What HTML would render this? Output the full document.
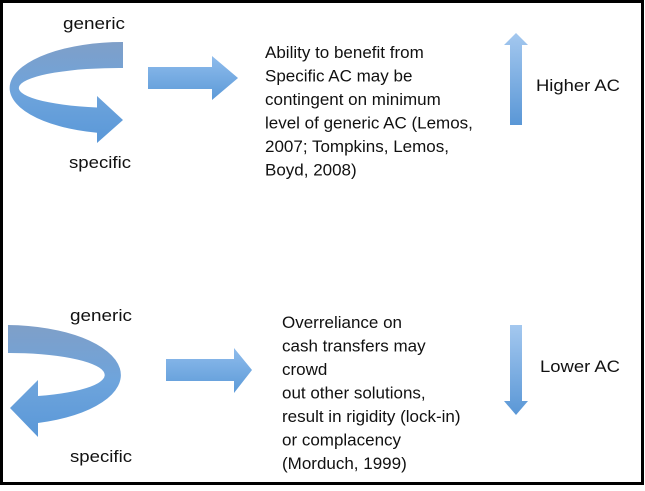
<!DOCTYPE html>
<html><head><meta charset="utf-8"><style>
html,body{margin:0;padding:0;background:#fff;}
body{width:645px;height:486px;overflow:hidden;}
svg text{font-family:"Liberation Sans",sans-serif;font-size:17px;fill:#111;}
</style></head><body>
<svg width="645" height="486" viewBox="0 0 645 486" xmlns="http://www.w3.org/2000/svg">
<defs>
<linearGradient id="g1" x1="0" y1="0" x2="0" y2="1">
<stop offset="0" stop-color="#7f9fc8"/><stop offset="0.5" stop-color="#6ea4dc"/><stop offset="1" stop-color="#5a98d8"/>
</linearGradient>
<linearGradient id="g2" x1="0" y1="0" x2="0" y2="1">
<stop offset="0" stop-color="#8fbcec"/><stop offset="1" stop-color="#5c9ad8"/>
</linearGradient>
<linearGradient id="g3" x1="0" y1="0" x2="0" y2="1">
<stop offset="0" stop-color="#a4c8ef"/><stop offset="1" stop-color="#5a97d6"/>
</linearGradient>
</defs>
<rect x="1.5" y="1.5" width="641" height="482" fill="#fff" stroke="#000" stroke-width="3"/>

<!-- top curved arrow -->
<path d="M123,42 A113,46 0 0,0 97,132.8 L97,143 L123,120 L97,96 L97,107.5 A100,20 0 0,1 123,68 Z" fill="url(#g1)"/>
<text x="63" y="29" textLength="62" lengthAdjust="spacingAndGlyphs">generic</text>
<text x="69" y="168" textLength="62" lengthAdjust="spacingAndGlyphs">specific</text>

<!-- top right arrow -->
<path d="M148,67 L212,67 L212,56 L238,78 L212,100 L212,89 L148,89 Z" fill="url(#g2)"/>

<text x="265" y="58">Ability to benefit from</text>
<text x="265" y="81.5">Specific AC may be</text>
<text x="265" y="105">contingent on minimum</text>
<text x="265" y="128.5">level of generic AC (Lemos,</text>
<text x="265" y="152">2007; Tompkins, Lemos,</text>
<text x="265" y="175.5">Boyd, 2008)</text>

<!-- up arrow -->
<path d="M516,33 L528,45 L522,45 L522,125 L510,125 L510,45 L504,45 Z" fill="url(#g3)"/>
<text x="536" y="91" textLength="84" lengthAdjust="spacingAndGlyphs">Higher AC</text>

<!-- bottom curved arrow -->
<path d="M8,325 A115,50 0 0,1 38,423 L38,437 L10,408 L38,380 L38,396 A95,22 0 0,0 8,353 Z" fill="url(#g1)"/>
<text x="70" y="321" textLength="62" lengthAdjust="spacingAndGlyphs">generic</text>
<text x="70" y="462" textLength="62" lengthAdjust="spacingAndGlyphs">specific</text>

<!-- bottom right arrow -->
<path d="M166,359 L234,359 L234,348 L252,370 L234,393 L234,381 L166,381 Z" fill="url(#g2)"/>

<text x="282" y="328">Overreliance on</text>
<text x="282" y="351.5">cash transfers may</text>
<text x="282" y="375">crowd</text>
<text x="282" y="398.5">out other solutions,</text>
<text x="282" y="422">result in rigidity (lock-in)</text>
<text x="282" y="445.5">or complacency</text>
<text x="282" y="469">(Morduch, 1999)</text>

<!-- down arrow -->
<path d="M510,325 L522,325 L522,401 L528,401 L516,415 L504,401 L510,401 Z" fill="url(#g3)"/>
<text x="540" y="372" textLength="80" lengthAdjust="spacingAndGlyphs">Lower AC</text>
</svg>
</body></html>
